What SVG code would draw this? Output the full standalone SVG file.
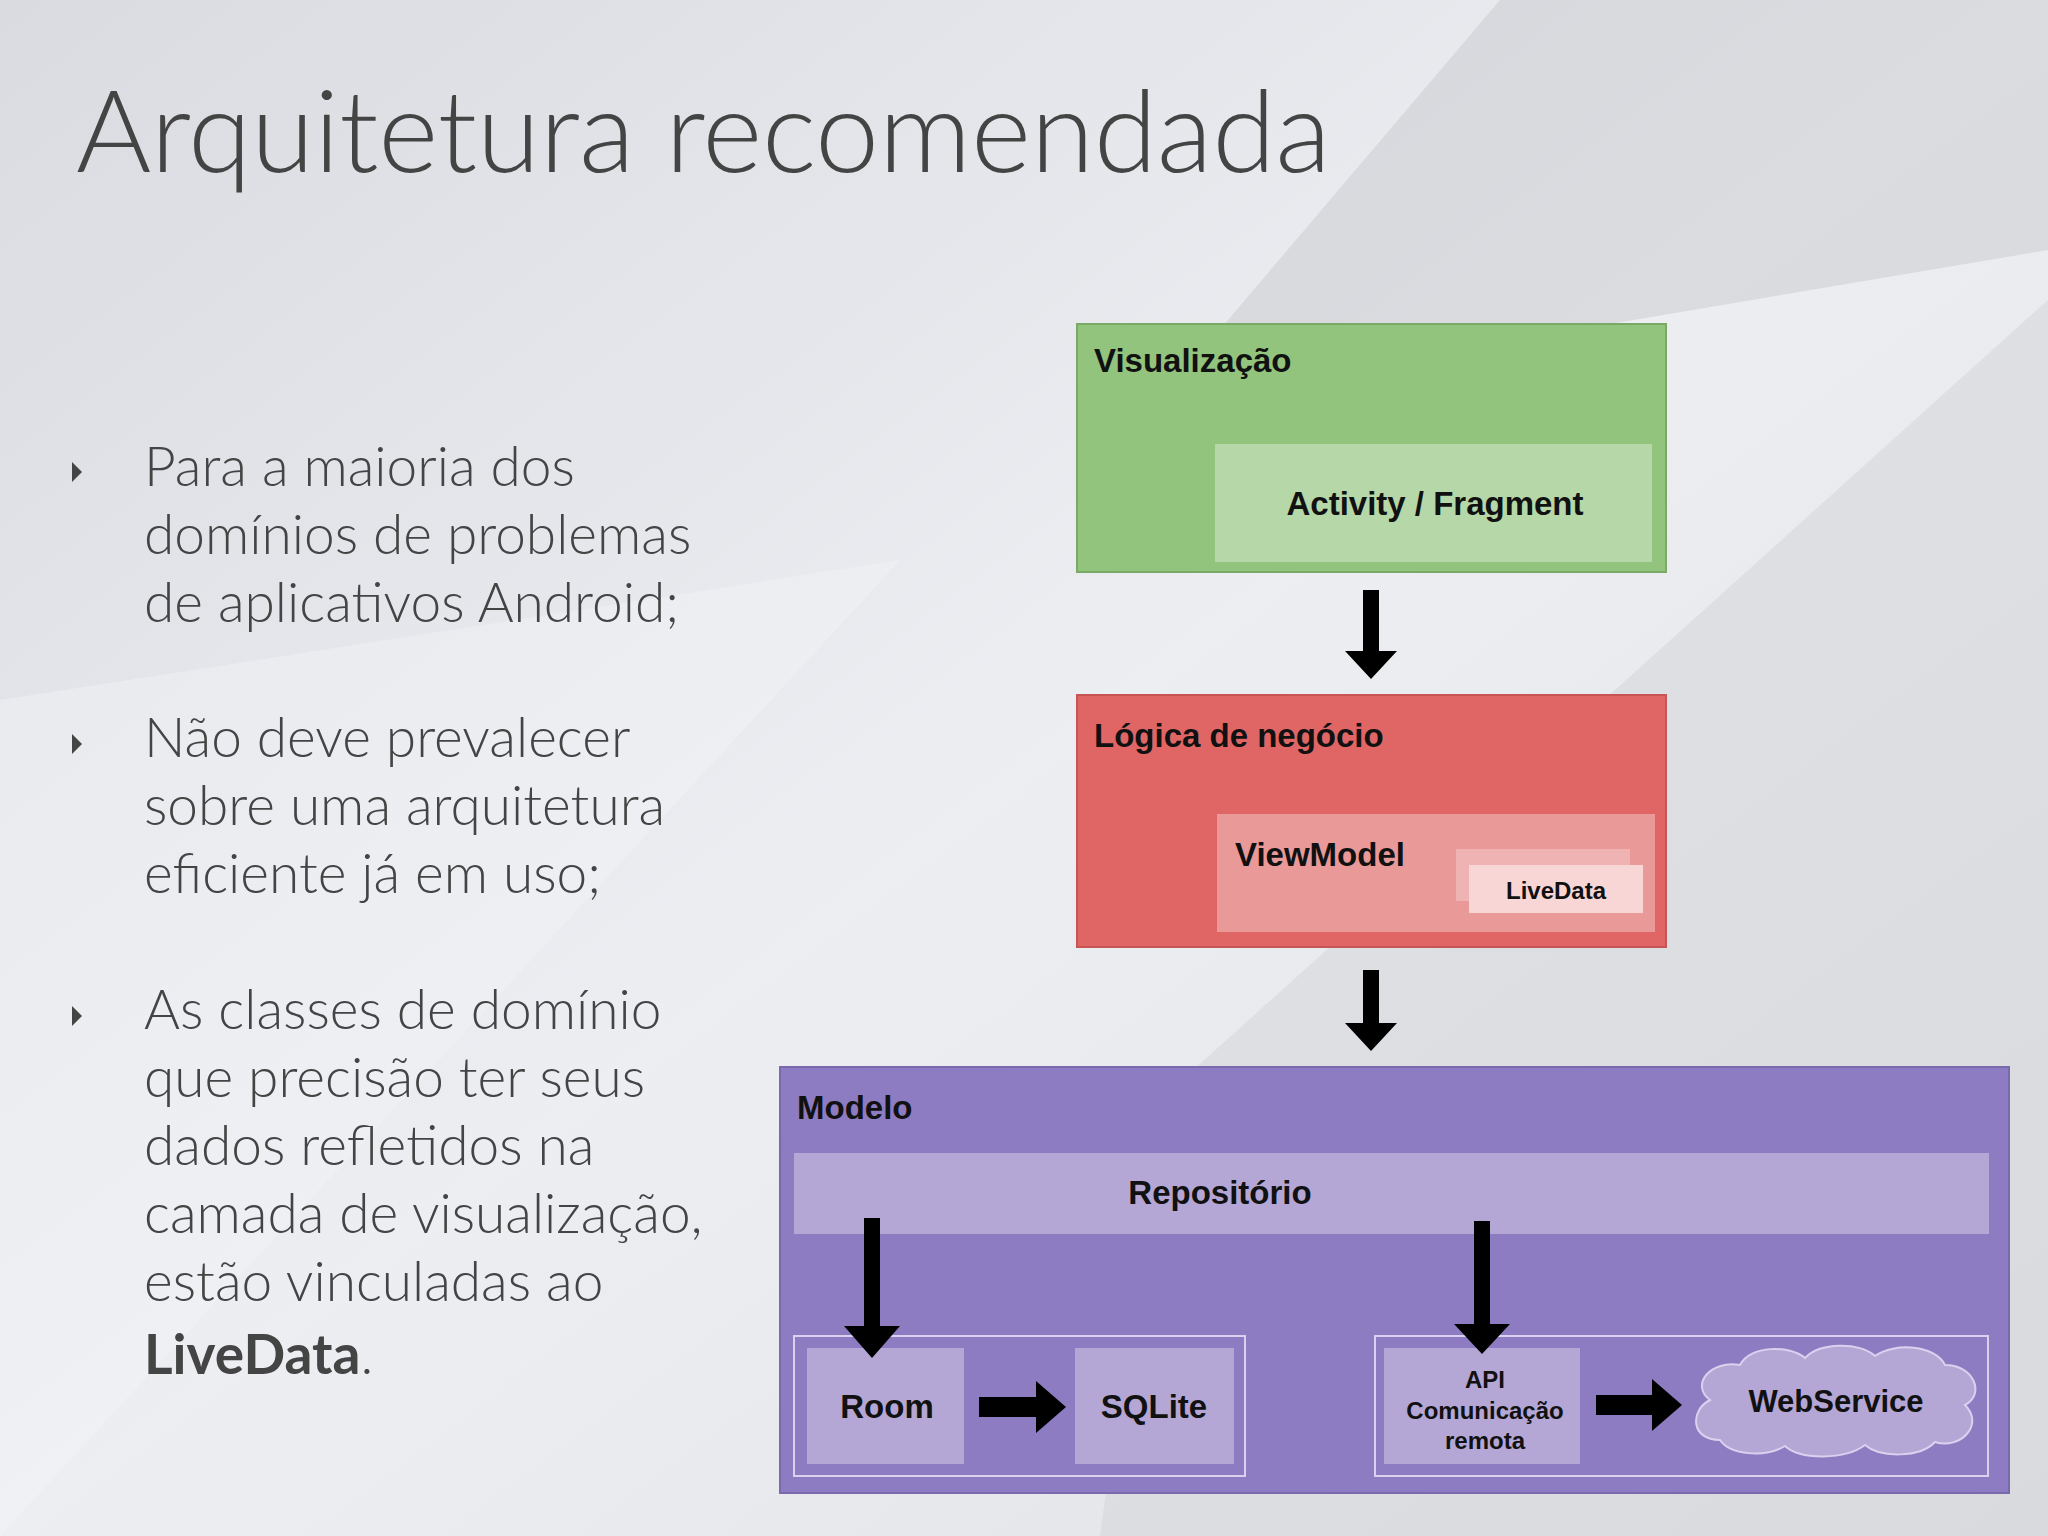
<svg xmlns="http://www.w3.org/2000/svg" width="2048" height="1536" viewBox="0 0 2048 1536">
<defs>
<linearGradient id="bg" x1="0" y1="0" x2="1" y2="1">
<stop offset="0" stop-color="#d9dbe0"/><stop offset="0.5" stop-color="#eceef2"/><stop offset="1" stop-color="#dfe1e5"/>
</linearGradient>
<style>
.t{font-family:Lato,"Open Sans",sans-serif;font-weight:300;fill:#444}
.b{font-family:"Liberation Sans",Arial,sans-serif;font-weight:bold;fill:#111}
.ar{fill:#000}
</style>
</defs>
<rect width="2048" height="1536" fill="url(#bg)"/>
<polygon points="1500,0 2048,0 2048,250 1160,400" fill="#c8cace" opacity="0.5"/>
<polygon points="1160,1100 2048,300 2048,1536 1100,1536" fill="#d2d4d8" opacity="0.5"/>
<polygon points="0,700 900,560 0,1536" fill="#f4f5f7" opacity="0.4"/>
<text class="t" x="76" y="172" font-size="115" textLength="1255">Arquitetura recomendada</text>
<g fill="#444">
<polygon points="72,462 82,472 72,482"/><polygon points="72,734 82,744 72,754"/><polygon points="72,1006 82,1016 72,1026"/>
</g>
<g class="t" font-size="55">
<text x="144" y="486">Para a maioria dos</text>
<text x="144" y="554">domínios de problemas</text>
<text x="144" y="622">de aplicativos Android;</text>
<text x="144" y="757">Não deve prevalecer</text>
<text x="144" y="825">sobre uma arquitetura</text>
<text x="144" y="893">eficiente já em uso;</text>
<text x="144" y="1029">As classes de domínio</text>
<text x="144" y="1097">que precisão ter seus</text>
<text x="144" y="1165">dados refletidos na</text>
<text x="144" y="1233">camada de visualização,</text>
<text x="144" y="1301">estão vinculadas ao</text>
<text x="144" y="1374"><tspan font-weight="bold">LiveData</tspan>.</text>
</g>
<g id="visualizacao">
<rect x="1077" y="324" width="589" height="248" fill="#93c47d" stroke="#7aa866" stroke-width="2"/>
<text class="b" x="1094" y="372" font-size="33">Visualização</text>
<rect x="1215" y="444" width="437" height="118" fill="#b6d7a8"/>
<text class="b" x="1435" y="515" font-size="33" text-anchor="middle">Activity / Fragment</text>
</g>
<g id="logica">
<rect x="1077" y="695" width="589" height="252" fill="#e06666" stroke="#c75555" stroke-width="2"/>
<text class="b" x="1094" y="747" font-size="33">Lógica de negócio</text>
<rect x="1217" y="814" width="438" height="118" fill="#ea9999"/>
<text class="b" x="1235" y="866" font-size="33">ViewModel</text>
<rect x="1456" y="849" width="174" height="52" fill="#f0b3b3"/>
<rect x="1469" y="865" width="174" height="48" fill="#f8d6d6"/>
<text class="b" x="1556" y="899" font-size="24" text-anchor="middle">LiveData</text>
</g>
<g id="modelo">
<rect x="780" y="1067" width="1229" height="426" fill="#8e7cc3" stroke="#7a69ad" stroke-width="2"/>
<text class="b" x="797" y="1119" font-size="33">Modelo</text>
<rect x="794" y="1153" width="1195" height="81" fill="#b4a7d6"/>
<text class="b" x="1220" y="1204" font-size="33" text-anchor="middle">Repositório</text>
<rect x="794" y="1336" width="451" height="140" fill="none" stroke="#d9d2ee" stroke-width="2"/>
<rect x="1375" y="1336" width="613" height="140" fill="none" stroke="#d9d2ee" stroke-width="2"/>
</g>
<g id="room"><rect x="807" y="1348" width="157" height="116" fill="#b4a7d6"/><text class="b" x="887" y="1418" font-size="33" text-anchor="middle">Room</text></g>
<g id="sqlite"><rect x="1075" y="1348" width="159" height="116" fill="#b4a7d6"/><text class="b" x="1154" y="1418" font-size="33" text-anchor="middle">SQLite</text></g>
<g id="api"><rect x="1384" y="1348" width="196" height="116" fill="#b4a7d6"/>
<text class="b" font-size="24" text-anchor="middle"><tspan x="1485" y="1388">API</tspan><tspan x="1485" y="1419">Comunicação</tspan><tspan x="1485" y="1449">remota</tspan></text></g>
<g id="webservice">
<path d="M1720,1440 C1690,1440 1690,1410 1710,1400 C1690,1385 1710,1360 1740,1365 C1750,1345 1790,1345 1805,1358 C1820,1342 1860,1342 1875,1356 C1895,1342 1935,1345 1945,1365 C1975,1365 1985,1395 1965,1405 C1985,1425 1960,1450 1935,1442 C1920,1458 1880,1458 1865,1445 C1845,1460 1800,1460 1785,1446 C1765,1458 1730,1455 1720,1440 Z" fill="#b4a7d6" stroke="#d9d2ee" stroke-width="2"/>
<text class="b" x="1836" y="1412" font-size="31" text-anchor="middle">WebService</text>
</g>
<g id="connectors" class="ar">
<polygon points="1363,590 1379,590 1379,651 1397,651 1371,679 1345,651 1363,651"/>
<polygon points="1363,970 1379,970 1379,1023 1397,1023 1371,1051 1345,1023 1363,1023"/>
<polygon points="864,1218 880,1218 880,1326 900,1326 872,1358 844,1326 864,1326"/>
<polygon points="1474,1221 1490,1221 1490,1324 1510,1324 1482,1354 1454,1324 1474,1324"/>
<polygon points="979,1397 1036,1397 1036,1381 1066,1407 1036,1433 1036,1417 979,1417"/>
<polygon points="1596,1395 1652,1395 1652,1379 1682,1405 1652,1431 1652,1415 1596,1415"/>
</g>
</svg>
